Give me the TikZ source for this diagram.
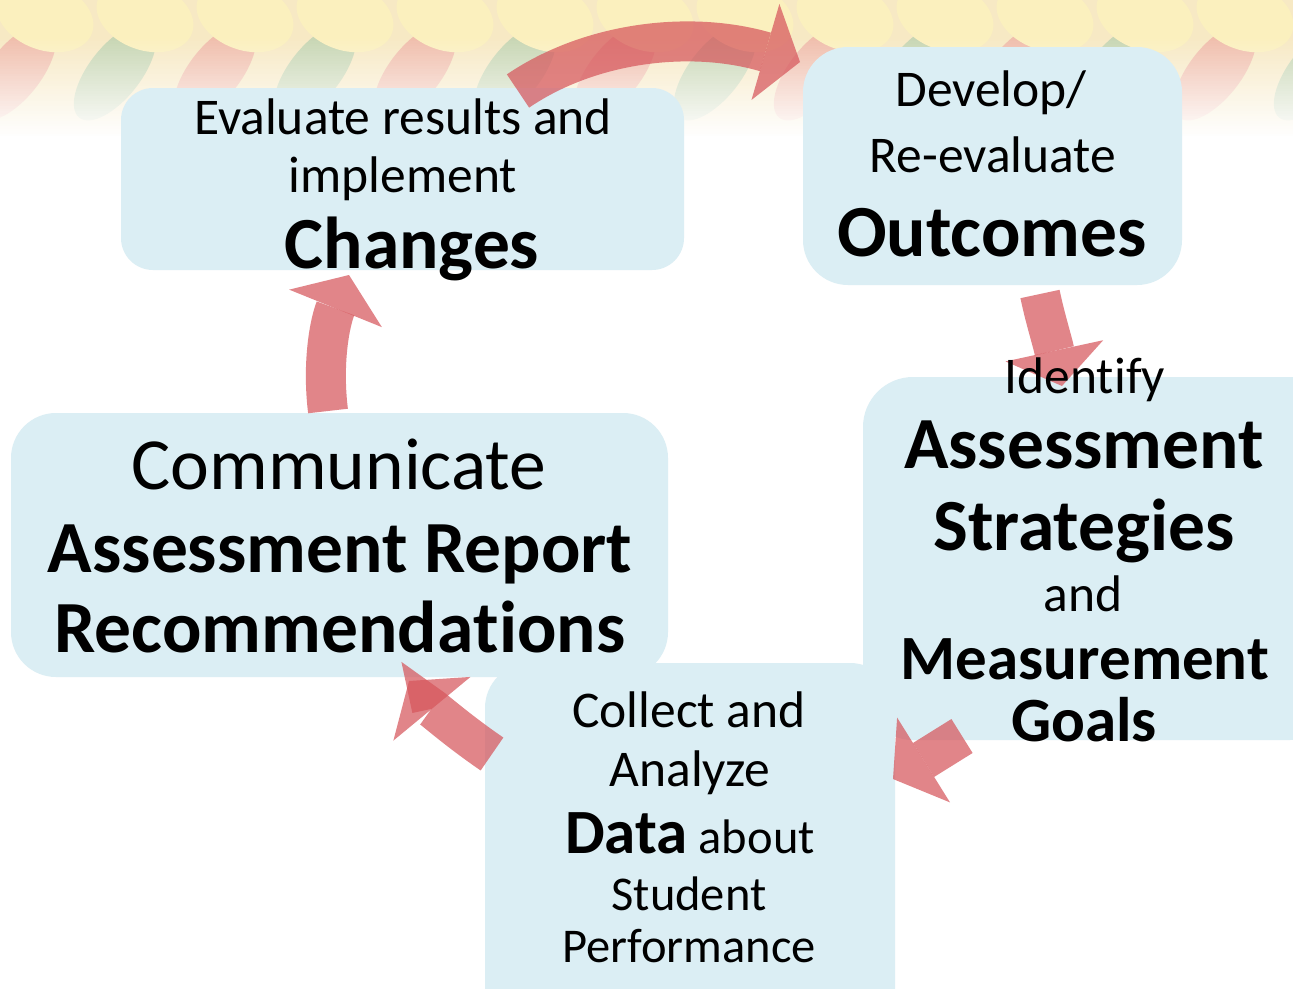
\documentclass[tikz,border=0pt]{standalone}
\usepackage{fontspec}
\setmainfont[Ligatures=NoCommon]{Carlito}
\usetikzlibrary{arrows.meta}
\definecolor{boxblue}{RGB}{219,238,244}
\definecolor{arrowred}{RGB}{214,86,92}
\definecolor{bandbase}{RGB}{247,233,196}
\definecolor{yarnyellow}{RGB}{251,240,190}
\definecolor{yarnred}{RGB}{240,190,172}
\definecolor{yarngreen}{RGB}{200,214,180}
\begin{document}
\begin{tikzpicture}[x=1pt,y=-1pt,
  box/.style={fill=boxblue, draw=none, inner sep=0pt, outer sep=0pt},
  reg/.style={anchor=base, inner sep=0pt, font=\fontsize{51.5}{60}\selectfont},
  sml/.style={anchor=base, inner sep=0pt, font=\fontsize{48.5}{58}\selectfont},
  bld/.style={anchor=base, inner sep=0pt, font=\fontsize{73.5}{86}\selectfont\bfseries},
  mid/.style={anchor=base, inner sep=0pt, font=\fontsize{63}{74}\selectfont\bfseries},
  cyclearrow/.style={draw=arrowred, opacity=0.72, line width=40pt,
    -{Triangle[length=36pt,width=100pt,line width=0pt]}},
  arrowcore/.style={draw=arrowred, opacity=0.18, line width=14pt}
]
\useasboundingbox (0,0) rectangle (1293,988);
\clip (0,0) rectangle (1293,988);
\fill[white] (0,0) rectangle (1293,988);
% decorative band
\fill[bandbase] (0,0) rectangle (1293,140);
\foreach \i in {0,2,...,14}
  \fill[yarnred] (\i*100+15,72) ellipse [x radius=26, y radius=58, rotate=-38];
\foreach \i in {1,3,...,13}
  \fill[yarngreen] (\i*100+15,72) ellipse [x radius=26, y radius=58, rotate=-38];
\foreach \i in {0,...,13}
  \fill[yarnyellow] (\i*100+45,16) ellipse [x radius=50, y radius=34, rotate=-20];
\foreach \k [evaluate=\k as \op using \k/40] in {0,...,40}
  \fill[white, opacity=\op] (0,{36+\k*2.5}) rectangle (1293,{38.7+\k*2.5});
\fill[white] (0,136) rectangle (1293,988);

% boxes
\node[box, rounded corners=32pt, minimum width=563pt, minimum height=182pt] (chg) at (402.5,179) {};
\node[box, rounded corners=45pt, minimum width=379pt, minimum height=238pt] (out) at (992.5,166) {};
\node[box, rounded corners=50pt, minimum width=477pt, minimum height=363pt] (ast) at (1101.5,558.5) {};
\node[box, rounded corners=45pt, minimum width=657pt, minimum height=264pt] (com) at (339.5,545) {};
\node[box, rounded corners=45pt, minimum width=410pt, minimum height=377pt] (dat) at (690,851.5) {};

% arrows
\coordinate (a1s) at (518,91);  \coordinate (a1e) at (800,62);
\coordinate (a2s) at (1040,294); \coordinate (a2e) at (1062,386);
\coordinate (a3s) at (962,736); \coordinate (a3e) at (893,779);
\coordinate (a4s) at (492,754); \coordinate (a4e) at (409,681);
\coordinate (a5s) at (328,411); \coordinate (a5e) at (349,275);
\draw[cyclearrow] (a1s) .. controls (590,42) and (690,30) .. (a1e);
\draw[cyclearrow] (a2s) .. controls (1045,318) and (1052,340) .. (a2e);
\draw[cyclearrow] (a3s) -- (a3e);
\draw[cyclearrow] (a4s) .. controls (454,728) and (428,704) .. (a4e);
\draw[cyclearrow] (a5s) .. controls (322,362) and (330,322) .. (a5e);

% texts
\node[reg] (t1a) at (403,134) {Evaluate results and};
\node[reg] (t1b) at (403,192) {implement};
\node[bld] (t1c) at (412,268) {Changes};

\node[reg] (t2a) at (991,106) {Develop/};
\node[reg] (t2b) at (993,172) {Re-evaluate};
\node[bld] (t2c) at (992,256) {Outcomes};

\node[reg] (t3a) at (1085,393) {Identify};
\node[bld] (t3b) at (1084,468) {Assessment};
\node[bld] (t3c) at (1084,550) {Strategies};
\node[reg] (t3d) at (1083,611) {and};
\node[mid] (t3e) at (1085,679) {Measurement};
\node[mid] (t3f) at (1084,741) {Goals};

\node[reg] (t4a) at (689,727) {Collect and};
\node[reg] (t4b) at (690,786) {Analyze};
\node[sml] (t4c) at (690,853) {{\fontsize{63}{74}\selectfont\bfseries Data} about};
\node[sml] (t4d) at (689,910) {Student};
\node[sml] (t4e) at (689,962) {Performance};

\node[reg, font=\fontsize{73.5}{86}\selectfont] (t5a) at (339,489) {Communicate};
\node[bld] (t5b) at (340,572) {Assessment Report};
\node[bld] (t5c) at (340,652) {Recommenda\kern0pt tions};
\end{tikzpicture}
\end{document}
